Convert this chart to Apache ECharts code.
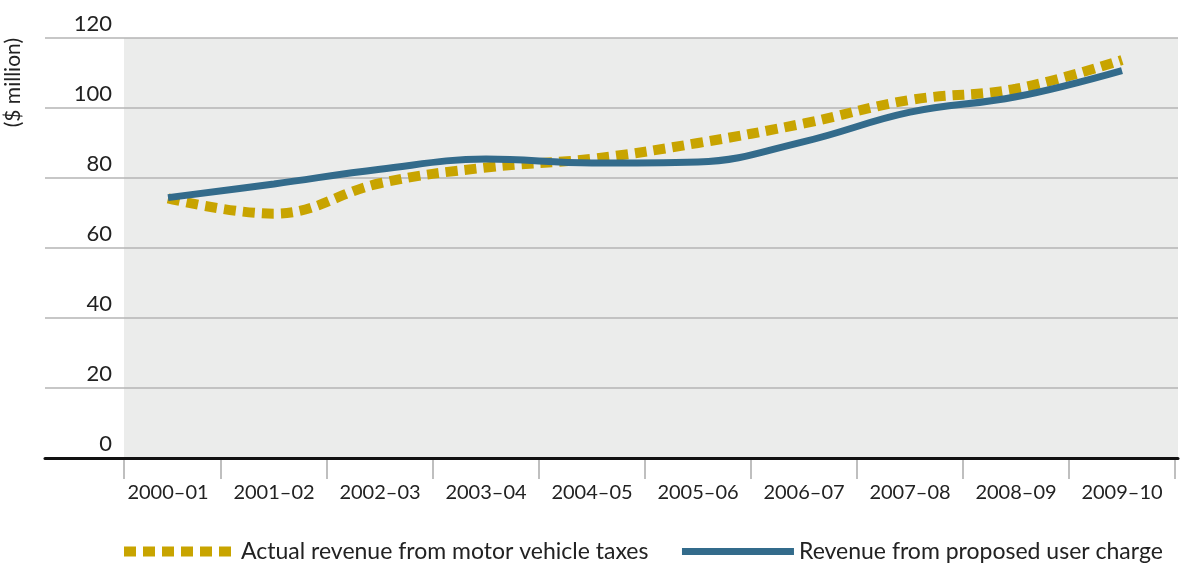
<!DOCTYPE html>
<html>
<head>
<meta charset="utf-8">
<script src="https://cdn.jsdelivr.net/npm/echarts@6/dist/echarts.min.js"></script>
<style>
  html, body { margin: 0; padding: 0; background: #fff; }
  #chart { width: 1187px; height: 565px; }
</style>
</head>
<body>
<div id="chart"></div>
<script>
var years = ['2000–01', '2001–02', '2002–03', '2003–04', '2004–05',
             '2005–06', '2006–07', '2007–08', '2008–09', '2009–10'];
var actualTaxes = [74.2, 69.8, 78.5, 83, 85.5, 90, 95.6, 102.3, 105.5, 113.7];
var userCharge = [74.4, 78.3, 82.5, 85.4, 84.3, 84.6, 90.4, 98.8, 103.2, 110.7];
var yMin = 0, yMax = 120, yStep = 20;

var FONT = 'Lato';
var GOLD = '#c8a400', BLUE = '#336b8b';
var myChart = echarts.init(document.getElementById('chart'));

var option = {
    backgroundColor: '#fff',
    textStyle: { fontFamily: FONT },
    graphic: [{
        type: 'text',
        left: 3,
        top: 38,
        rotation: Math.PI / 2,
        style: {
            text: '($ million)',
            font: '21px ' + FONT,
            fill: '#222'
        }
    }],
    legend: {
        bottom: -3,
        left: 114,
        itemWidth: 112,
        itemHeight: 12,
        itemGap: 30,
        textStyle: { fontSize: 23, color: '#222', fontFamily: FONT },
        data: [
            { name: 'Actual revenue from motor vehicle taxes',
              itemStyle: { opacity: 0 },
              lineStyle: { color: GOLD, width: 10, type: [12, 7] } },
            { name: 'Revenue from proposed user charge',
              itemStyle: { opacity: 0 },
              lineStyle: { color: BLUE, width: 7 } }
        ]
    },
    grid: [
        // gridlines, running out under the tick labels
        { left: 45, right: 9, top: 38, bottom: 107 },
        // grey plot background
        { left: 124, right: 9, top: 38, bottom: 107, show: true,
          backgroundColor: '#ebeceb', borderWidth: 0, z: 0 },
        // data
        { left: 115, right: 12, top: 38, bottom: 107 }
    ],
    xAxis: [
        { gridIndex: 0, type: 'category', data: years, z: 4,
          axisLine: { show: true, lineStyle: { color: '#111', width: 3 } },
          axisTick: { show: false }, axisLabel: { show: false } },
        { gridIndex: 1, type: 'value', min: 0, max: 1, interval: 1,
          axisLine: { show: false }, axisLabel: { show: false }, splitLine: { show: false },
          axisTick: { show: true, length: 21, customValues: [0],
                      lineStyle: { color: '#aaa', width: 1.5 } } },
        { gridIndex: 2, type: 'category', data: years, boundaryGap: true,
          axisLine: { show: false },
          axisTick: { show: true, length: 21, lineStyle: { color: '#aaa', width: 1.5 },
                      interval: function (i) { return i !== 0; } },
          axisLabel: { margin: 25, fontSize: 20, color: '#222', fontFamily: FONT } }
    ],
    yAxis: [
        { gridIndex: 0, type: 'value', min: yMin, max: yMax, interval: yStep, z: 3,
          axisLine: { show: false }, axisTick: { show: false }, axisLabel: { show: false },
          splitLine: { show: true, lineStyle: { color: '#b5b5b5', width: 1.5 } } },
        { gridIndex: 1, type: 'value', min: yMin, max: yMax, show: false },
        { gridIndex: 2, type: 'value', min: yMin, max: yMax, interval: yStep,
          axisLine: { show: false }, axisTick: { show: false },
          splitLine: { show: false },
          axisLabel: { margin: 3, fontSize: 22, color: '#222', fontFamily: FONT,
                       verticalAlign: 'bottom', padding: [0, 0, 3, 0] } }
    ],
    series: [
        {
            name: 'Actual revenue from motor vehicle taxes',
            type: 'line',
            xAxisIndex: 2, yAxisIndex: 2,
            data: actualTaxes,
            smooth: 0.4,
            symbol: 'none',
            z: 5,
            itemStyle: { color: GOLD },
            lineStyle: { color: GOLD, width: 10, type: [12, 7] }
        },
        {
            name: 'Revenue from proposed user charge',
            type: 'line',
            xAxisIndex: 2, yAxisIndex: 2,
            data: userCharge,
            smooth: 0.4,
            symbol: 'none',
            z: 6,
            itemStyle: { color: BLUE },
            lineStyle: { color: BLUE, width: 7 }
        }
    ]
};
myChart.setOption(option);
</script>
</body>
</html>
